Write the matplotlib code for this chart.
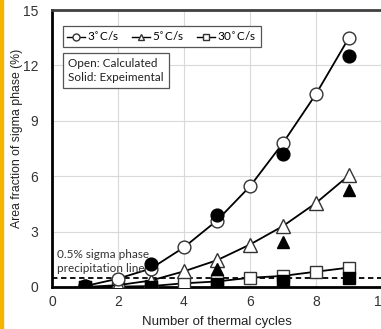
import matplotlib.pyplot as plt
from matplotlib.lines import Line2D
from matplotlib.patches import Rectangle

# calculated (open markers)
cycles = [1, 2, 3, 4, 5, 6, 7, 8, 9]
calc_3 = [0.05, 0.45, 1.0, 2.15, 3.6, 5.45, 7.8, 10.45, 13.5]
calc_5 = [0.0, 0.1, 0.35, 0.85, 1.45, 2.3, 3.3, 4.55, 6.05]
calc_30 = [0.0, 0.02, 0.05, 0.2, 0.3, 0.5, 0.6, 0.83, 1.05]

# experimental (solid markers)
exp_cycles = [1, 3, 5, 7, 9]
exp_3 = [0.05, 1.25, 3.9, 7.2, 12.5]
exp_5 = [0.0, 0.0, 0.95, 2.45, 5.25]
exp_30 = [0.0, 0.0, 0.15, 0.3, 0.5]

precip_line = 0.5
labels = ['3$^{\\circ}$C/s', '5$^{\\circ}$C/s', '30$^{\\circ}$C/s']

fig = plt.figure(figsize=(3.81, 3.29), dpi=100)
ax = fig.add_axes([52 / 381, 42 / 329, 330 / 381, 277 / 329])

# orange strip on the left edge of the picture
fig.patches.append(Rectangle((0, 0), 3 / 381, 1, transform=fig.transFigure,
                             color='#f5b400', zorder=0))

ms = 9.2
ax.axhline(precip_line, color='black', ls='--', lw=1.3, dashes=(3, 2), zorder=2)

ax.plot(cycles, calc_30, '-s', color='black', mfc='white', mec='#333333', ms=ms, lw=1.3, zorder=3)
ax.plot(cycles, calc_5, '-^', color='black', mfc='white', mec='#333333', ms=ms + 1, lw=1.3, zorder=3)
ax.plot(cycles, calc_3, '-o', color='black', mfc='white', mec='#333333', ms=ms, lw=1.3, zorder=3)

ax.plot(exp_cycles, exp_30, 's', color='black', ms=ms, zorder=4)
ax.plot(exp_cycles, exp_5, '^', color='black', ms=ms, zorder=4)
ax.plot(exp_cycles, exp_3, 'o', color='black', ms=ms, zorder=4)

ax.set_xlim(0, 10)
ax.set_ylim(0, 15)
ax.set_xticks([0, 2, 4, 6, 8, 10])
ax.set_yticks([0, 3, 6, 9, 12, 15])
ax.grid(True, color='#d9d9d9', lw=0.8)
ax.set_axisbelow(True)
ax.tick_params(length=0, labelsize=10, labelcolor='#333333')
ax.tick_params(axis='y', pad=10)
ax.tick_params(axis='x', pad=6)
for lab in ax.get_xticklabels() + ax.get_yticklabels():
    lab.set_fontfamily('Liberation Sans')

ax.spines['left'].set_linewidth(2)
ax.spines['bottom'].set_linewidth(2)
ax.spines['top'].set_linewidth(2)
ax.spines['top'].set_color('#404040')
ax.spines['right'].set_visible(False)

ax.set_xlabel('Number of thermal cycles', fontsize=9.5, family='Liberation Sans',
              color='#222222', labelpad=5)
ax.set_ylabel('Area fraction of sigma phase (%)', fontsize=8.8, family='Liberation Sans',
              color='#222222')
ax.yaxis.set_label_coords(-0.088, 0.535)

handles = [
    Line2D([], [], color='black', marker='o', mfc='white', mec='#333333', ms=5, lw=1),
    Line2D([], [], color='black', marker='^', mfc='white', mec='#333333', ms=5, lw=1),
    Line2D([], [], color='black', marker='s', mfc='white', mec='#333333', ms=5, lw=1),
]
leg = ax.legend(handles, labels, ncol=3, loc='upper left', bbox_to_anchor=(0.015, 0.965),
                fancybox=False, edgecolor='#555555', framealpha=1, handlelength=1.5,
                handletextpad=0.2, columnspacing=1.1, borderpad=0.35,
                prop={'family': 'Lato', 'size': 8.5})
leg.get_frame().set_linewidth(0.9)

ax.text(0.05, 0.825, 'Open: Calculated\nSolid: Expeimental', transform=ax.transAxes,
        family='Lato', fontsize=8.5, color='#222222', va='top', ha='left', linespacing=1.3,
        bbox=dict(boxstyle='square,pad=0.45', fc='white', ec='#555555', lw=0.9))

ax.text(0.15, 0.7, '0.5% sigma phase\nprecipitation line', family='Lato', fontsize=8.5,
        color='#333333', va='bottom', ha='left', linespacing=1.35, zorder=5)

fig.savefig('out.png', dpi=100)
